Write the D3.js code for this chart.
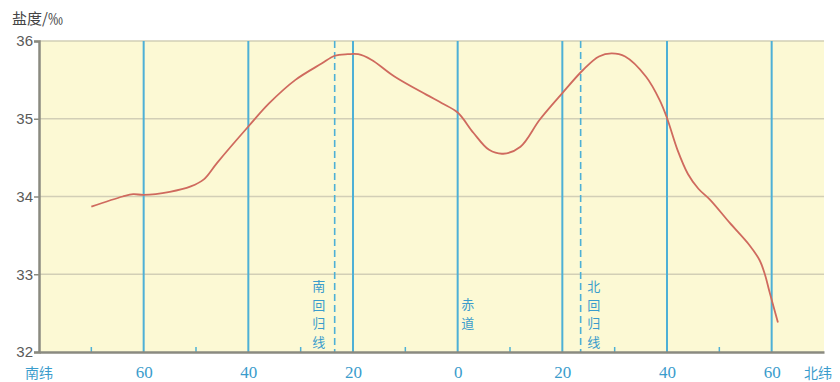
<!DOCTYPE html>
<html><head><meta charset="utf-8">
<script src="https://cdn.jsdelivr.net/npm/d3@7"></script>
<style>body{margin:0;background:#fff}svg{display:block}</style>
</head><body><svg id="c" width="840" height="382"></svg>
<script>
const latitudes = [-70,-64,-62,-60,-55,-51,-48.5,-46,-40,-36,-31,-26,-23.5,-21,-19,-16.5,-12,-6,-3,0,3,6,8.7,12,15.7,20,24,27,29.4,32,36,38.6,40,42,44,46,48.2,52,55.8,57.7,58.7,59.6,61.2];
const salinity  = [33.87,34.0,34.03,34.02,34.06,34.13,34.22,34.43,34.9,35.2,35.5,35.71,35.81,35.83,35.83,35.76,35.54,35.31,35.2,35.08,34.82,34.6,34.55,34.64,34.99,35.33,35.63,35.8,35.84,35.8,35.54,35.24,35.01,34.6,34.29,34.1,33.96,33.66,33.37,33.18,33.0,32.77,32.38];
const yTicks = [32,33,34,35,36];
const xMajor = [-60,-40,-20,0,20,40,60];
const xMajorLabels = ["60","40","20","0","20","40","60"];
const xMinor = [-70,-50,-30,-10,10,30,50];
const tropics = [-23.5, 23.5];
const tropicLabels = [["南","回","归","线"],["北","回","归","线"]];
const equatorLabel = ["赤","道"];
const yTitle = "盐度/‰";
const southLabel = "南纬", northLabel = "北纬";

const svg = d3.select("#c");
const x = d3.scaleLinear().domain([-80,70]).range([39,824]);
const y = d3.scaleLinear().domain([32,36]).range([352,41]);
const blue = "#4db0d6", textBlue = "#3a9ccc";

svg.append("rect").attr("x",x(-80)).attr("y",y(36)).attr("width",x(70)-x(-80)).attr("height",y(32)-y(36)).attr("fill","#fcf9d4");

svg.selectAll(".hg").data(yTicks.filter(d=>d>32)).join("line")
  .attr("x1",x(-80)).attr("x2",x(70)).attr("y1",d=>y(d)).attr("y2",d=>y(d))
  .attr("stroke","#d2cfb6").attr("stroke-width",1.5);

svg.selectAll(".vg").data(xMajor).join("line")
  .attr("x1",d=>x(d)).attr("x2",d=>x(d)).attr("y1",y(36)).attr("y2",y(32))
  .attr("stroke",blue).attr("stroke-width",2);

svg.selectAll(".tr").data(tropics).join("line")
  .attr("x1",d=>x(d)).attr("x2",d=>x(d)).attr("y1",y(36)).attr("y2",y(32))
  .attr("stroke",blue).attr("stroke-width",1.6).attr("stroke-dasharray","7,4");

svg.selectAll(".mt").data(xMinor).join("line")
  .attr("x1",d=>x(d)).attr("x2",d=>x(d)).attr("y1",y(32)).attr("y2",y(32)-5)
  .attr("stroke",blue).attr("stroke-width",1.5);

const yAxis = svg.append("g").attr("transform",`translate(${x(-80)},0)`)
  .call(d3.axisLeft(y).tickValues(yTicks).tickSize(5).tickFormat(d3.format("d")));
yAxis.select(".domain").attr("stroke","#8a8a80").attr("stroke-width",2.5);
yAxis.selectAll(".tick line").attr("stroke","#8a8a80").attr("stroke-width",1.5);
yAxis.selectAll(".tick text").attr("fill","#5a5a5a").attr("font-family","Liberation Sans, Arial, sans-serif").attr("font-size",15).attr("x",-6);

const xAxis = svg.append("g").attr("transform",`translate(0,${y(32)})`)
  .call(d3.axisBottom(x).tickValues(xMajor).tickSize(0).tickFormat((d,i)=>xMajorLabels[i]));
xAxis.select(".domain").attr("stroke","#8a8a80").attr("stroke-width",2.5);
xAxis.selectAll(".tick text").attr("fill",textBlue).attr("font-family","Liberation Serif, Times New Roman, serif").attr("font-size",17).attr("dy","0").attr("y",26);

svg.append("text").attr("x",x(-80)).attr("y",y(32)+26).attr("text-anchor","middle")
  .attr("fill",textBlue).attr("font-family","Noto Sans CJK SC").attr("font-size",14).text(southLabel);
svg.append("text").attr("x",x(70)-6).attr("y",y(32)+26).attr("text-anchor","middle")
  .attr("fill",textBlue).attr("font-family","Noto Sans CJK SC").attr("font-size",14).text(northLabel);

svg.append("text").attr("x",12).attr("y",24).attr("fill","#444")
  .attr("font-family","Noto Sans CJK SC").attr("font-size",15).text(yTitle);

function vlabel(chars, cx, y0, step){
  svg.append("g").selectAll("text").data(chars).join("text")
    .attr("x",cx).attr("y",(d,i)=>y0+i*step).attr("text-anchor","middle")
    .attr("fill",textBlue).attr("font-family","Noto Sans CJK SC").attr("font-size",13).text(d=>d);
}
vlabel(tropicLabels[0], x(-23.5)-16, 291, 18.5);
vlabel(tropicLabels[1], x(23.5)+13, 291, 18.5);
vlabel(equatorLabel, x(0)+10, 309, 19);

const line = d3.line().x(d=>x(d[0])).y(d=>y(d[1])).curve(d3.curveCatmullRom.alpha(0.5));
svg.append("path").datum(latitudes.map((l,i)=>[l,salinity[i]]))
  .attr("d",line).attr("fill","none").attr("stroke","#cf6a5e").attr("stroke-width",1.8);
</script></body></html>
